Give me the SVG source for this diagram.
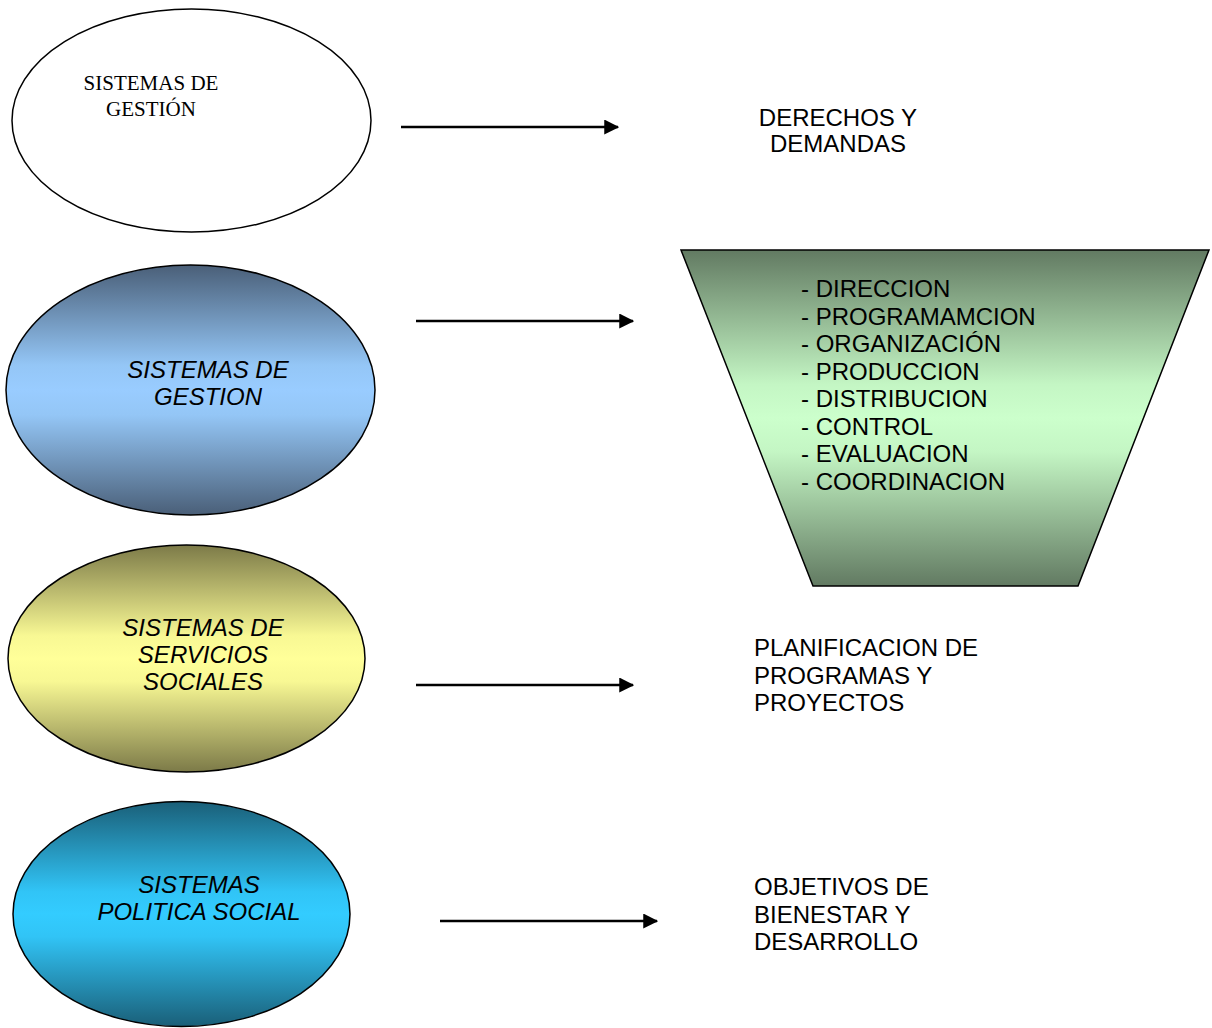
<svg xmlns="http://www.w3.org/2000/svg" width="1212" height="1028" viewBox="0 0 1212 1028">
<style>
.shape{stroke:#000;stroke-width:1.5}
.serif{font-family:"Liberation Serif","Times New Roman",serif;font-size:21px;fill:#000}
.it{font-family:"Liberation Sans",Arial,sans-serif;font-size:24px;font-style:italic;fill:#000;text-anchor:middle}
.lbl{font-family:"Liberation Sans",Arial,sans-serif;font-size:24px;fill:#000}
.conn{stroke:#000;stroke-width:2.5;fill:none}
</style>
<defs>
<linearGradient id="gBlue" x1="0" y1="0" x2="0" y2="1">
<stop offset="0" stop-color="#4a5f78"/><stop offset="0.4" stop-color="#94c6f6"/><stop offset="0.5" stop-color="#99ccff"/><stop offset="0.6" stop-color="#94c6f6"/><stop offset="1" stop-color="#4a5f78"/>
</linearGradient>
<linearGradient id="gYellow" x1="0" y1="0" x2="0" y2="1">
<stop offset="0" stop-color="#7c7a48"/><stop offset="0.4" stop-color="#f8f894"/><stop offset="0.5" stop-color="#ffff99"/><stop offset="0.6" stop-color="#f8f894"/><stop offset="1" stop-color="#7c7a48"/>
</linearGradient>
<linearGradient id="gCyan" x1="0" y1="0" x2="0" y2="1">
<stop offset="0" stop-color="#1a5f78"/><stop offset="0.4" stop-color="#31c4f6"/><stop offset="0.5" stop-color="#33ccff"/><stop offset="0.6" stop-color="#31c4f6"/><stop offset="1" stop-color="#1a5f78"/>
</linearGradient>
<linearGradient id="gGreen" x1="0" y1="0" x2="0" y2="1">
<stop offset="0" stop-color="#627a62"/><stop offset="0.4" stop-color="#c4f6c4"/><stop offset="0.5" stop-color="#ccffcc"/><stop offset="0.6" stop-color="#c4f6c4"/><stop offset="1" stop-color="#627a62"/>
</linearGradient>
<marker id="arr" markerWidth="6" markerHeight="6" refX="5.5" refY="3" orient="auto" markerUnits="strokeWidth">
<path d="M0,0 L6,3 L0,6 Z" fill="#000"/>
</marker>
</defs>

<g id="node-gestion-1">
<ellipse class="shape" cx="191.5" cy="120.5" rx="179.5" ry="111.5" fill="#fff"/>
<text class="serif" x="151" y="90" text-anchor="middle">SISTEMAS DE</text>
<text class="serif" x="151" y="116" text-anchor="middle">GESTIÓN</text>
</g>

<g id="node-gestion-2">
<ellipse class="shape" cx="190.5" cy="390" rx="184.5" ry="125" fill="url(#gBlue)"/>
<text class="it" x="208" y="378">SISTEMAS DE</text>
<text class="it" x="208" y="405">GESTION</text>
</g>

<g id="node-servicios">
<ellipse class="shape" cx="186.5" cy="658.5" rx="178.5" ry="113.5" fill="url(#gYellow)"/>
<text class="it" x="203" y="636">SISTEMAS DE</text>
<text class="it" x="203" y="663">SERVICIOS</text>
<text class="it" x="203" y="690">SOCIALES</text>
</g>

<g id="node-politica">
<ellipse class="shape" cx="181.5" cy="914" rx="168.5" ry="112.5" fill="url(#gCyan)"/>
<text class="it" x="199" y="893">SISTEMAS</text>
<text class="it" x="199" y="920">POLITICA SOCIAL</text>
</g>

<g id="node-derechos">
<text class="lbl" x="838" y="126" text-anchor="middle">DERECHOS Y</text>
<text class="lbl" x="838" y="152" text-anchor="middle">DEMANDAS</text>
</g>

<g id="node-funciones">
<polygon class="shape" points="681,250 1209,250 1078,586 813,586" fill="url(#gGreen)"/>
<text class="lbl" x="801" y="297">- DIRECCION</text>
<text class="lbl" x="801" y="324.5">- PROGRAMAMCION</text>
<text class="lbl" x="801" y="352">- ORGANIZACIÓN</text>
<text class="lbl" x="801" y="379.5">- PRODUCCION</text>
<text class="lbl" x="801" y="407">- DISTRIBUCION</text>
<text class="lbl" x="801" y="434.5">- CONTROL</text>
<text class="lbl" x="801" y="462">- EVALUACION</text>
<text class="lbl" x="801" y="489.5">- COORDINACION</text>
</g>

<g id="node-planificacion">
<text class="lbl" x="754" y="656">PLANIFICACION DE</text>
<text class="lbl" x="754" y="683.5">PROGRAMAS Y</text>
<text class="lbl" x="754" y="711">PROYECTOS</text>
</g>

<g id="node-objetivos">
<text class="lbl" x="754" y="895">OBJETIVOS DE</text>
<text class="lbl" x="754" y="922.5">BIENESTAR Y</text>
<text class="lbl" x="754" y="950">DESARROLLO</text>
</g>

<g id="connectors">
<line class="conn" x1="401" y1="127" x2="618" y2="127" marker-end="url(#arr)"/>
<line class="conn" x1="416" y1="321" x2="633" y2="321" marker-end="url(#arr)"/>
<line class="conn" x1="416" y1="685" x2="633" y2="685" marker-end="url(#arr)"/>
<line class="conn" x1="440" y1="921" x2="657" y2="921" marker-end="url(#arr)"/>
</g>
</svg>
